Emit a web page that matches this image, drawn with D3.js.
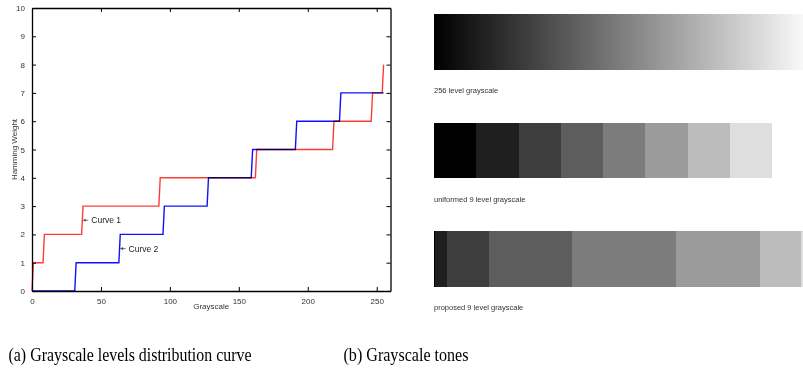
<!DOCTYPE html>
<html>
<head>
<meta charset="utf-8">
<script src="https://cdn.jsdelivr.net/npm/d3@7"></script>
<style>
  body { margin: 0; background: #fff; }
  svg { display: block; }
  .tick text { font-family: "Liberation Sans", Arial, sans-serif; font-size: 8px; fill: #333; }
  .bars rect { shape-rendering: crispEdges; }
</style>
</head>
<body>
<svg id="chart" width="803" height="377"></svg>
<script>
// ---- data ----
// curve 1: last grayscale index at each Hamming weight (sorted weights 0..255)
const curve1Levels = [0, 1, 2, 3, 4, 5, 6, 7, 8]
const curve1LastIndex = [0, 8, 36, 92, 162, 218, 246, 254, 255]
// curve 2: uniform quantisation, 32 values per level
const curve2Levels = [0, 1, 2, 3, 4, 5, 6, 7]
const curve2LastIndex = [31, 63, 95, 127, 159, 191, 223, 255]

const xTicks = [0, 50, 100, 150, 200, 250]
const yTicks = [0, 1, 2, 3, 4, 5, 6, 7, 8, 9, 10]

// nine gray tones and how many of the 256 values each one covers
const grayTones = [0, 31, 62, 93, 124, 155, 188, 222, 255]
const uniformCounts = [1, 1, 1, 1, 1, 1, 1, 1, 1]
const proposedCounts = [1, 8, 28, 56, 70, 56, 28, 8, 1]

const barLabels = ["256 level grayscale", "uniformed 9 level grayscale", "proposed 9 level grayscale"]
const captions = ["(a) Grayscale levels distribution curve", "(b) Grayscale tones"]

const svg = d3.select("#chart")

//////  LEFT PLOT  //////
const x = d3.scaleLinear().domain([0, 260]).range([32, 390.5])
const y = d3.scaleLinear().domain([0, 10]).range([291, 8])

const plot = svg.append("g")

// step points: horizontal run at each level, then a one-unit rise
let stepPoints = (levels, lastIdx, startX) => {
  let pts = []
  let prev = startX
  for (let i = 0; i < levels.length; i++) {
    pts.push([prev, levels[i]])
    pts.push([lastIdx[i], levels[i]])
    prev = lastIdx[i] + 1
  }
  return pts
}

const line = d3.line().x(d => x(d[0])).y(d => y(d[1]))

plot.append("path")
  .datum(stepPoints(curve2Levels, curve2LastIndex, 0))
  .attr("fill", "none")
  .attr("stroke", "#1010ff")
  .attr("stroke-width", 1.4)
  .attr("d", line)

plot.append("path")
  .datum([[0, 0]].concat(stepPoints(curve1Levels.slice(1), curve1LastIndex.slice(1), 1)))
  .attr("fill", "none")
  .attr("stroke", "#ff1a1a")
  .attr("stroke-width", 1.4)
  .attr("stroke-opacity", 0.85)
  .style("mix-blend-mode", "multiply")
  .attr("d", line)

// axes (boxed, ticks inside)
const axisStyle = g => {
  g.select(".domain").attr("stroke", "#000").attr("stroke-width", 1.3)
  g.selectAll(".tick line").attr("stroke", "#000")
}
plot.append("g").attr("transform", `translate(0,${y(0)})`)
  .call(d3.axisBottom(x).tickValues(xTicks).tickSizeInner(-4).tickSizeOuter(0).tickPadding(7))
  .call(axisStyle)
plot.append("g").attr("transform", `translate(0,${y(10)})`)
  .call(d3.axisTop(x).tickValues(xTicks).tickSizeInner(-4).tickSizeOuter(0).tickFormat(""))
  .call(axisStyle)
plot.append("g").attr("transform", `translate(${x(0)},0)`)
  .call(d3.axisLeft(y).tickValues(yTicks).tickSizeInner(-4).tickSizeOuter(0).tickPadding(7))
  .call(axisStyle)
plot.append("g").attr("transform", `translate(${x(260)},0)`)
  .call(d3.axisRight(y).tickValues(yTicks).tickSizeInner(-4).tickSizeOuter(0).tickFormat(""))
  .call(axisStyle)

// axis labels
plot.append("text")
  .attr("x", x(130)).attr("y", 309)
  .attr("text-anchor", "middle")
  .style("font", "8px 'Liberation Sans', Arial, sans-serif").attr("fill", "#333")
  .text("Grayscale")
plot.append("text")
  .attr("transform", `translate(17,${y(5)}) rotate(-90)`)
  .attr("text-anchor", "middle")
  .style("font", "8px 'Liberation Sans', Arial, sans-serif").attr("fill", "#333")
  .text("Hamming Weight")

// curve annotations
const notes = [
  {name: "Curve 1", gx: 36.5, gy: 2.5},
  {name: "Curve 2", gx: 63.5, gy: 1.5}
]
notes.forEach(n => {
  const px = x(n.gx), py = y(n.gy)
  plot.append("line")
    .attr("x1", px + 1).attr("y1", py).attr("x2", px + 6).attr("y2", py)
    .attr("stroke", "#555").attr("stroke-width", 0.8)
  plot.append("path")
    .attr("d", `M${px + 0.5},${py} l3,-1.6 l0,3.2 z`)
    .attr("fill", "#555")
  plot.append("text")
    .attr("x", px + 9).attr("y", py + 3)
    .style("font", "8.5px 'Liberation Sans', Arial, sans-serif").attr("fill", "#222")
    .text(n.name)
})

//////  RIGHT: GRAY BARS  //////
const bx = d3.scaleLinear().domain([0, 256]).range([434, 814.6])
const barY = [14, 123, 231]
const barH = 56

// 256 level gradient
svg.append("g").attr("class", "bars").selectAll("rect")
  .data(d3.range(256))
  .join("rect")
  .attr("x", d => bx(d))
  .attr("y", barY[0])
  .attr("width", bx(1) - bx(0) + 1)
  .attr("height", barH)
  .attr("fill", d => d3.rgb(d, d, d))

// segments from counts
let segments = counts => {
  let start = 0
  return counts.map((c, i) => {
    const s = {start: start, count: c, tone: grayTones[i]}
    start += c
    return s
  })
}

const ux = d3.scaleLinear().domain([0, d3.sum(uniformCounts)]).range([434, 814.6])
svg.append("g").attr("class", "bars").selectAll("rect")
  .data(segments(uniformCounts))
  .join("rect")
  .attr("x", d => ux(d.start))
  .attr("y", barY[1])
  .attr("width", d => ux(d.start + d.count) - ux(d.start))
  .attr("height", barH - 1)
  .attr("fill", d => d3.rgb(d.tone, d.tone, d.tone))

const px3 = d3.scaleLinear().domain([0, d3.sum(proposedCounts)]).range([434, 814.6])
svg.append("g").attr("class", "bars").selectAll("rect")
  .data(segments(proposedCounts))
  .join("rect")
  .attr("x", d => px3(d.start))
  .attr("y", barY[2])
  .attr("width", d => px3(d.start + d.count) - px3(d.start))
  .attr("height", barH)
  .attr("fill", d => d3.rgb(d.tone, d.tone, d.tone))

barLabels.forEach((t, i) => {
  svg.append("text")
    .attr("x", 434).attr("y", barY[i] + barH + 23)
    .style("font", "7.5px 'Liberation Sans', Arial, sans-serif").attr("fill", "#333")
    .text(t)
})

//////  CAPTIONS  //////
svg.append("text")
  .attr("x", 8.5).attr("y", 361)
  .attr("textLength", 243).attr("lengthAdjust", "spacingAndGlyphs")
  .style("font", "18px 'Liberation Serif', 'Times New Roman', serif").attr("fill", "#000")
  .text(captions[0])
svg.append("text")
  .attr("x", 343.5).attr("y", 361)
  .attr("textLength", 125).attr("lengthAdjust", "spacingAndGlyphs")
  .style("font", "18px 'Liberation Serif', 'Times New Roman', serif").attr("fill", "#000")
  .text(captions[1])
</script>
</body>
</html>
